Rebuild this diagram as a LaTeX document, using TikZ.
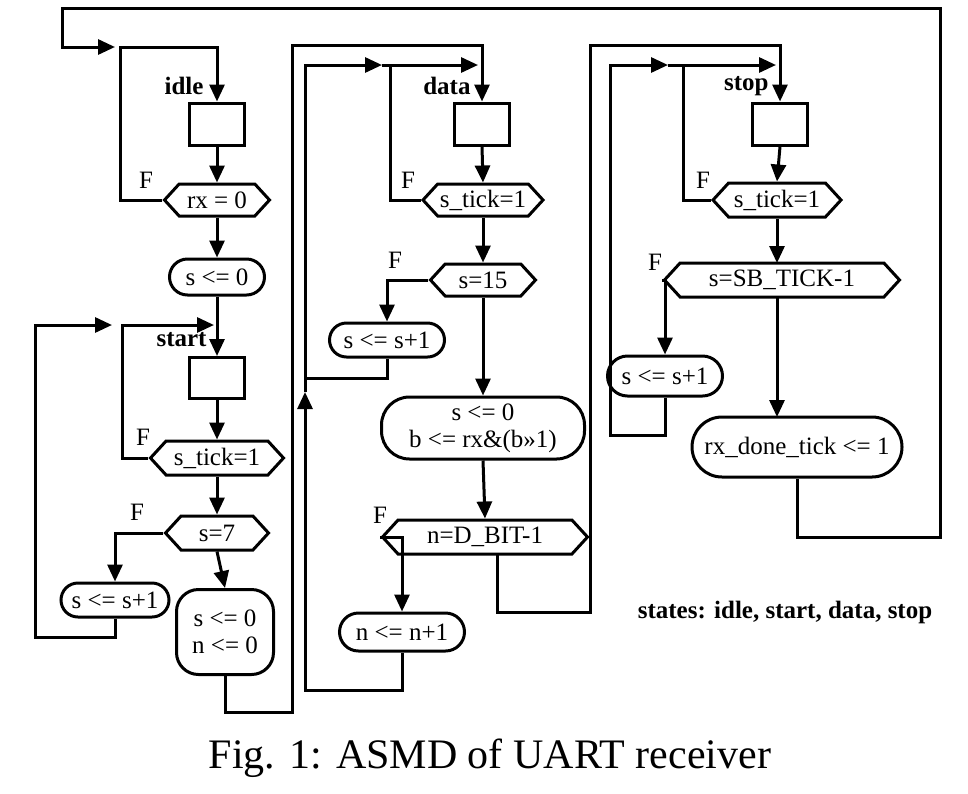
\documentclass[tikz,border=0pt]{standalone}
\usepackage{fontspec}
\setmainfont{Liberation Serif}
\usetikzlibrary{shapes.symbols,shapes.misc,arrows.meta}
\begin{document}
\begin{tikzpicture}[x=1pt,y=-1pt,line width=3pt,
  every node/.style={font=\fontsize{25}{27}\selectfont,inner sep=0pt},
  arr/.style={-{Triangle[length=17pt,width=15pt]}},
  sbox/.style={draw,rectangle,minimum width=55pt,minimum height=42pt},
  hexa/.style={draw,signal,signal to=west and east,signal pointer angle=95,minimum height=32pt},
  rbox/.style={draw,rounded rectangle,minimum height=36pt},
  lbl/.style={font=\fontsize{25}{27}\selectfont\bfseries,anchor=east},
  flab/.style={font=\fontsize{25}{27}\selectfont}]
\useasboundingbox (0,0) rectangle (968,793);
% idle / start column
\node[sbox] (idlebox) at (217,124) {};
\node[hexa,minimum width=105pt] (rx) at (217,200) {rx = 0};
\node[rbox,minimum width=95pt] (s0) at (217,277) {s <= 0};
\node[sbox,minimum height=41pt] (startbox) at (217,378) {};
\node[hexa,minimum width=133pt,minimum height=34pt] (st1) at (217,458) {s\_tick=1};
\node[hexa,minimum width=103pt,minimum height=34pt] (s7) at (217,533) {s=7};
\node[rbox,minimum width=108pt,minimum height=34pt] (inc1) at (115,600) {s <= s+1};
\node[draw,rounded corners=22pt,minimum width=97pt,minimum height=85pt,align=center] (sn0) at (225,632) {s <= 0\\n <= 0};
\node[lbl] (lidle) at (205,86) {idle};
\node[lbl] (lstart) at (208,340) {start};
% data column
\node[sbox] (databox) at (482,124) {};
\node[hexa,minimum width=120pt] (dt) at (483,200) {s\_tick=1};
\node[hexa,minimum width=105pt] (s15) at (483,280) {s=15};
\node[rbox,minimum width=115pt,minimum height=34pt] (dinc) at (387,340) {s <= s+1};
\node[draw,rounded corners=28pt,minimum width=203pt,minimum height=62pt,align=center] (sb) at (483,428) {s <= 0\\b <= rx\&(b>>1)};
\node[hexa,minimum width=205pt,minimum height=34pt] (nd) at (485,537) {n=D\_BIT-1};
\node[rbox,minimum width=125pt,minimum height=38pt] (ninc) at (402,632) {n <= n+1};
\node[lbl] (ldata) at (472,86) {data};
% stop column
\node[sbox] (stopbox) at (780,124) {};
\node[hexa,minimum width=128pt,minimum height=34pt] (stt) at (777,200) {s\_tick=1};
\node[hexa,minimum width=235pt,minimum height=34pt] (sbt) at (782,280) {s=SB\_TICK-1};
\node[rbox,minimum width=115pt,minimum height=40pt] (sinc) at (665,376) {s <= s+1};
\node[rbox,minimum width=210pt,minimum height=60pt] (rxdone) at (797,447) {rx\_done\_tick <= 1};
\node[lbl] (lstop) at (770,86) {stop};
% F labels
\node[flab] (f1) at (146,180) {F};
\node[flab] (f2) at (143,437) {F};
\node[flab] (f3) at (137,512) {F};
\node[flab] (f4) at (408,180) {F};
\node[flab] (f5) at (395,260) {F};
\node[flab] (f6) at (380,515) {F};
\node[flab] (f7) at (703,180) {F};
\node[flab] (f8) at (655,262) {F};
\node[font=\fontsize{25}{27}\selectfont\bfseries] (states) at (785,612) {states: idle, start, data, stop};
\node[font=\fontsize{42}{46}\selectfont] (cap) at (490,758) {Fig. 1: ASMD of UART receiver};
% idle connections
\draw[arr] (idlebox.south) -- (rx.north);
\draw[arr] (rx.south) -- (s0.north);
\draw[arr] (rx.west) -- (120,200) -- (120,47) -- (217,47) -- (idlebox.north);
\draw[arr] (rxdone.south) -- (797,537) -- (940,537) -- (940,8) -- (62,8) -- (62,47) -- (115,47);
% start connections
\draw[arr] (s0.south) -- (startbox.north);
\draw[arr] (st1.west) -- (122,458) -- (122,325) -- (214,325);
\draw[arr] (inc1.south) -- (115,637) -- (35,637) -- (35,325) -- (112,325);
\draw[arr] (startbox.south) -- (st1.north);
\draw[arr] (st1.south) -- (s7.north);
\draw[arr] (s7.south) -- (sn0.north);
\draw[arr] (s7.west) -| (inc1.north);
\draw[arr] (sn0.south) -- (225,712) -- (292,712) -- (292,45) -- (482,45) -- (databox.north);
% data connections
\draw[arr] (ninc.south) -- (402,690) -- (305,690) -- (305,392);
\draw[arr] (305,392) -- (305,65) -- (382,65);
\draw[arr] (382,65) -- (478,65);
\draw (dt.west) -- (390,200) -- (390,65);
\draw (dinc.south) -- (387,378) -- (305,378);
\draw[arr] (databox.south) -- (dt.north);
\draw[arr] (dt.south) -- (s15.north);
\draw[arr] (s15.west) -| (dinc.north);
\draw[arr] (s15.south) -- (sb.north);
\draw[arr] (sb.south) -- (nd.north);
\draw[arr] (nd.west) -| (ninc.north);
\draw[arr] (497,554) -- (497,612) -- (590,612) -- (590,45) -- (780,45) -- (stopbox.north);
% stop connections
\draw[arr] (sinc.south) -- (665,435) -- (610,435) -- (610,65) -- (668,65);
\draw[arr] (668,65) -- (776,65);
\draw (stt.west) -- (683,200) -- (683,65);
\draw[arr] (stopbox.south) -- (stt.north);
\draw[arr] (stt.south) -- (777,263);
\draw[arr] (sbt.west) -| (sinc.north);
\draw[arr] (777,297) -- (777,417);
\end{tikzpicture}
\end{document}
